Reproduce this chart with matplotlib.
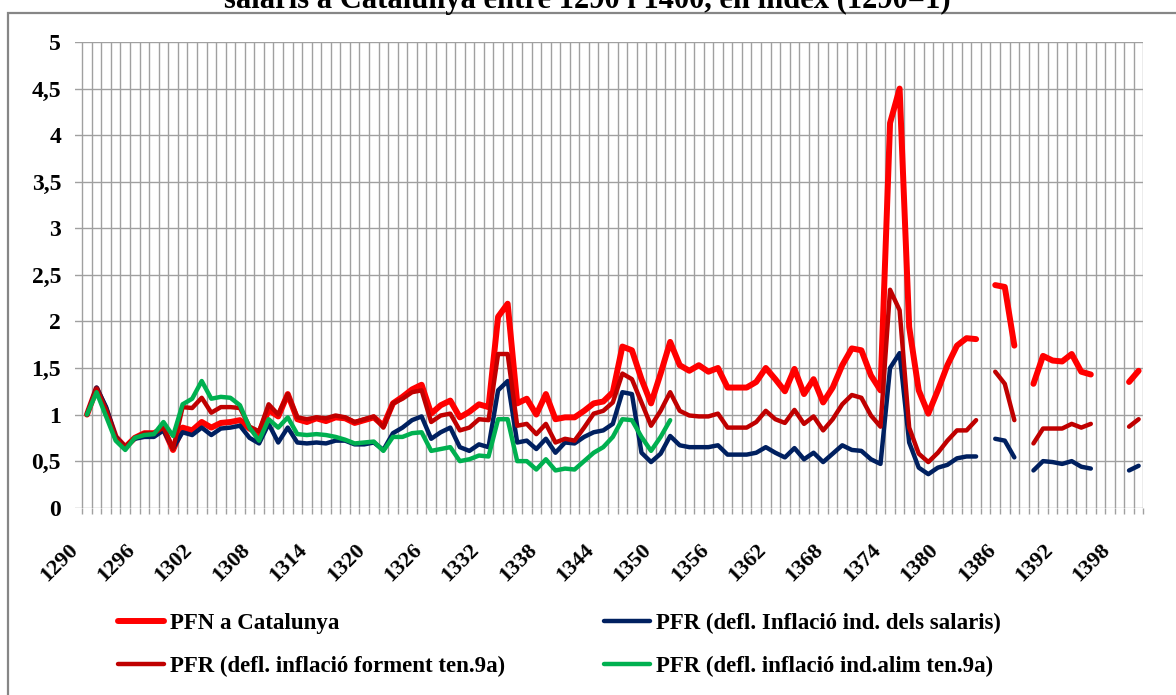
import numpy as np
import matplotlib.pyplot as plt
from matplotlib.patches import Rectangle
from matplotlib.transforms import ScaledTranslation

nan = np.nan

years = list(range(1290, 1401))

pfn = [1.00, 1.28, 1.05, 0.76, 0.65, 0.75, 0.80, 0.80, 0.85, 0.62,
       0.86, 0.83, 0.92, 0.86, 0.91, 0.92, 0.94, 0.85, 0.80, 1.05,
       0.98, 1.22, 0.95, 0.92, 0.96, 0.93, 0.97, 0.96, 0.91, 0.94,
       0.97, 0.88, 1.12, 1.19, 1.27, 1.32, 1.01, 1.10, 1.15, 0.97,
       1.03, 1.11, 1.08, 2.05, 2.19, 1.12, 1.17, 1.00, 1.22, 0.95,
       0.97, 0.97, 1.04, 1.12, 1.14, 1.24, 1.73, 1.69, 1.38, 1.12,
       1.44, 1.78, 1.53, 1.47, 1.53, 1.46, 1.50, 1.29, 1.29, 1.29,
       1.35, 1.50, 1.38, 1.25, 1.49, 1.22, 1.38, 1.13, 1.29, 1.53,
       1.71, 1.69, 1.42, 1.26, 4.13, 4.50, 1.94, 1.26, 1.01, 1.26,
       1.53, 1.74, 1.82, 1.81, nan, 2.39, 2.37, 1.74, nan, 1.33,
       1.63, 1.58, 1.57, 1.65, 1.46, 1.43, nan, nan, nan, 1.35,
       1.47]

salaris = [1.00, 1.29, 1.08, 0.76, 0.65, 0.74, 0.76, 0.76, 0.83, 0.64,
           0.81, 0.78, 0.86, 0.78, 0.85, 0.86, 0.88, 0.75, 0.69, 0.90,
           0.70, 0.86, 0.70, 0.69, 0.70, 0.69, 0.72, 0.72, 0.68, 0.68,
           0.70, 0.62, 0.80, 0.86, 0.94, 0.98, 0.74, 0.81, 0.86, 0.65,
           0.61, 0.68, 0.65, 1.26, 1.36, 0.70, 0.72, 0.63, 0.74, 0.59,
           0.70, 0.69, 0.76, 0.81, 0.83, 0.90, 1.24, 1.22, 0.59, 0.49,
           0.58, 0.77, 0.67, 0.65, 0.65, 0.65, 0.67, 0.57, 0.57, 0.57,
           0.59, 0.65, 0.59, 0.54, 0.64, 0.52, 0.59, 0.49, 0.58, 0.67,
           0.62, 0.61, 0.52, 0.47, 1.50, 1.66, 0.70, 0.43, 0.36, 0.43,
           0.46, 0.53, 0.55, 0.55, nan, 0.74, 0.72, 0.54, nan, 0.40,
           0.50, 0.49, 0.47, 0.50, 0.44, 0.42, nan, nan, nan, 0.40,
           0.45]

forment = [1.00, 1.28, 1.05, 0.75, 0.65, 0.75, 0.80, 0.80, 0.86, 0.63,
           1.08, 1.07, 1.18, 1.02, 1.08, 1.08, 1.07, 0.87, 0.82, 1.11,
           1.00, 1.22, 0.97, 0.95, 0.97, 0.96, 0.99, 0.97, 0.92, 0.95,
           0.98, 0.86, 1.12, 1.17, 1.24, 1.26, 0.92, 0.99, 1.01, 0.83,
           0.86, 0.95, 0.94, 1.65, 1.65, 0.88, 0.90, 0.79, 0.90, 0.70,
           0.74, 0.72, 0.86, 1.01, 1.04, 1.13, 1.44, 1.38, 1.13, 0.88,
           1.04, 1.24, 1.04, 0.99, 0.98, 0.98, 1.01, 0.86, 0.86, 0.86,
           0.92, 1.04, 0.95, 0.91, 1.05, 0.90, 0.98, 0.83, 0.95, 1.11,
           1.21, 1.18, 0.99, 0.87, 2.34, 2.12, 0.86, 0.58, 0.49, 0.59,
           0.72, 0.83, 0.83, 0.94, nan, 1.46, 1.33, 0.94, nan, 0.69,
           0.85, 0.85, 0.85, 0.90, 0.86, 0.90, nan, nan, nan, 0.87,
           0.95]

alim = [1.00, 1.24, 0.98, 0.72, 0.62, 0.75, 0.78, 0.79, 0.92, 0.77,
        1.11, 1.17, 1.36, 1.17, 1.19, 1.18, 1.10, 0.86, 0.72, 0.95,
        0.86, 0.97, 0.79, 0.78, 0.79, 0.78, 0.76, 0.73, 0.69, 0.70,
        0.71, 0.61, 0.76, 0.76, 0.80, 0.81, 0.61, 0.63, 0.65, 0.50,
        0.52, 0.56, 0.55, 0.95, 0.95, 0.50, 0.50, 0.41, 0.52, 0.40,
        0.42, 0.41, 0.50, 0.59, 0.65, 0.76, 0.95, 0.94, 0.76, 0.61,
        0.76, 0.94] + [nan] * 49

labels = ['PFN a Catalunya',
          'PFR (defl. Inflació ind. dels salaris)',
          'PFR (defl. inflació forment ten.9a)',
          'PFR (defl. inflació ind.alim ten.9a)']
colors = ['#FF0000', '#002060', '#C00000', '#00B050']
widths = [4.3, 3.2, 3.2, 3.2]

title = 'salaris a Catalunya entre 1290 i 1400, en índex (1290=1)'

plt.rcParams['font.family'] = ['Liberation Serif', 'DejaVu Serif']
plt.rcParams['font.weight'] = 'bold'

W, H = 1176, 695
fig = plt.figure(figsize=(W / 100, H / 100), dpi=100)

# chart area border (runs off the right and bottom edge)
fig.add_artist(Rectangle((8 / W, -0.2), 1.5, 1 - 13 / H + 0.2, transform=fig.transFigure,
                         fill=False, edgecolor='#868686', linewidth=1.6))

# only the last line of the title is visible in the source
fig.text(587 / W, 1 - 8 / H, title, ha='center', va='baseline', fontsize=22, fontweight='bold')

ax = fig.add_axes([75 / W, 1 - 507.7 / H, (1143.4 - 75) / W, (507.7 - 42) / H])
x = np.arange(len(years))

series = [pfn, salaris, forment, alim]
lines = []
for i, s in enumerate(series):
    ln, = ax.plot(x, s, color=colors[i], linewidth=widths[i], solid_joinstyle='round',
                  solid_capstyle='round', zorder=3 + i, label=labels[i])
    lines.append(ln)

ax.set_xlim(-1.255, len(years) - 0.5)
ax.set_ylim(0, 5)
ax.set_yticks(np.arange(0, 5.01, 0.5))
ax.set_yticklabels(['0', '0,5', '1', '1,5', '2', '2,5', '3', '3,5', '4', '4,5', '5'], fontsize=17)

ax.set_xticks(x[::6])
ax.set_xticklabels([str(y) for y in years[::6]], rotation=45, ha='right', va='top', fontsize=16)
ax.set_xticks(np.arange(-0.5, len(years)), minor=True)
ax.tick_params(axis='x', which='major', length=0, pad=23)
ax.tick_params(axis='x', which='minor', length=4.5, width=1, color='#A0A0A0', direction='out')
ax.tick_params(axis='y', length=0, pad=10)
off = ScaledTranslation(-5 / 100, 0, fig.dpi_scale_trans)
for lab in ax.get_xticklabels():
    lab.set_transform(lab.get_transform() + off)

ax.grid(True, axis='y', color='#A0A0A0', linewidth=1)
ax.grid(True, axis='x', which='minor', color='#A0A0A0', linewidth=1)
ax.grid(False, axis='x', which='major')
ax.set_axisbelow(True)
for sp in ax.spines.values():
    sp.set_visible(False)

order = [0, 2, 1, 3]
fig.legend([lines[k] for k in order], [labels[k] for k in order], ncol=2,
           loc='upper left', bbox_to_anchor=(118 / W, 1 - 613 / H), frameon=False,
           prop={'family': 'Liberation Serif', 'weight': 'bold', 'size': 16.5},
           handlelength=2.0, handletextpad=0.25, columnspacing=4.35, labelspacing=0.95,
           borderpad=0, borderaxespad=0)

fig.savefig('out.png', dpi=100)
